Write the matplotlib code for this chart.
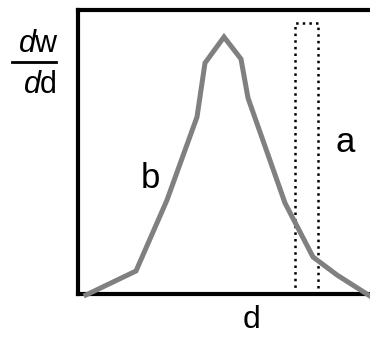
import matplotlib.pyplot as plt
from matplotlib.lines import Line2D

plt.rcParams['font.family'] = ['Liberation Sans', 'DejaVu Sans']
plt.rcParams['mathtext.fontset'] = 'custom'
plt.rcParams['mathtext.rm'] = 'Liberation Sans'
plt.rcParams['mathtext.it'] = 'Liberation Sans:italic'

# curve b (distribution), arbitrary units
curve_x = [8, 58, 89, 119, 127, 146, 163, 170, 207, 235, 259, 292]
curve_y = [-1, 23, 94, 177, 231, 257, 235, 196, 91, 37, 19, -2]

# dotted window a
win_x0, win_x1 = 217, 240
win_top = 271

fig = plt.figure(figsize=(3.7, 3.37), dpi=100)
ax = fig.add_axes([78 / 370, 43 / 337, 1.0, 284 / 337])
ax.set_xlim(0, 370)
ax.set_ylim(0, 284)
ax.set_xticks([])
ax.set_yticks([])
ax.spines['right'].set_visible(False)
for s in ['left', 'top', 'bottom']:
    ax.spines[s].set_linewidth(3)
    ax.spines[s].set_color('black')

ax.plot([win_x0, win_x0, win_x1, win_x1], [0, win_top, win_top, 0],
        color='black', ls=':', lw=1.8, zorder=3)
ax.plot(curve_x, curve_y, color='#808080', lw=3.6, clip_on=False,
        solid_joinstyle='miter', zorder=5)

ax.text(267, 152, 'a', fontsize=25, ha='center', va='center')
ax.text(72, 116, 'b', fontsize=25, ha='center', va='center')

fig.text(252 / 370, 1 - 320 / 337, 'd', fontsize=23, ha='center', va='center')
fig.text(39 / 370, 1 - 44 / 337, r'$d\mathrm{w}$', fontsize=22,
         ha='center', va='center')
fig.text(40 / 370, 1 - 85 / 337, r'$d\mathrm{d}$', fontsize=22,
         ha='center', va='center')
fig.add_artist(Line2D([12 / 370, 56 / 370], [1 - 62 / 337, 1 - 62 / 337],
                      transform=fig.transFigure, color='black', lw=2))

fig.savefig('out.png', dpi=100)
